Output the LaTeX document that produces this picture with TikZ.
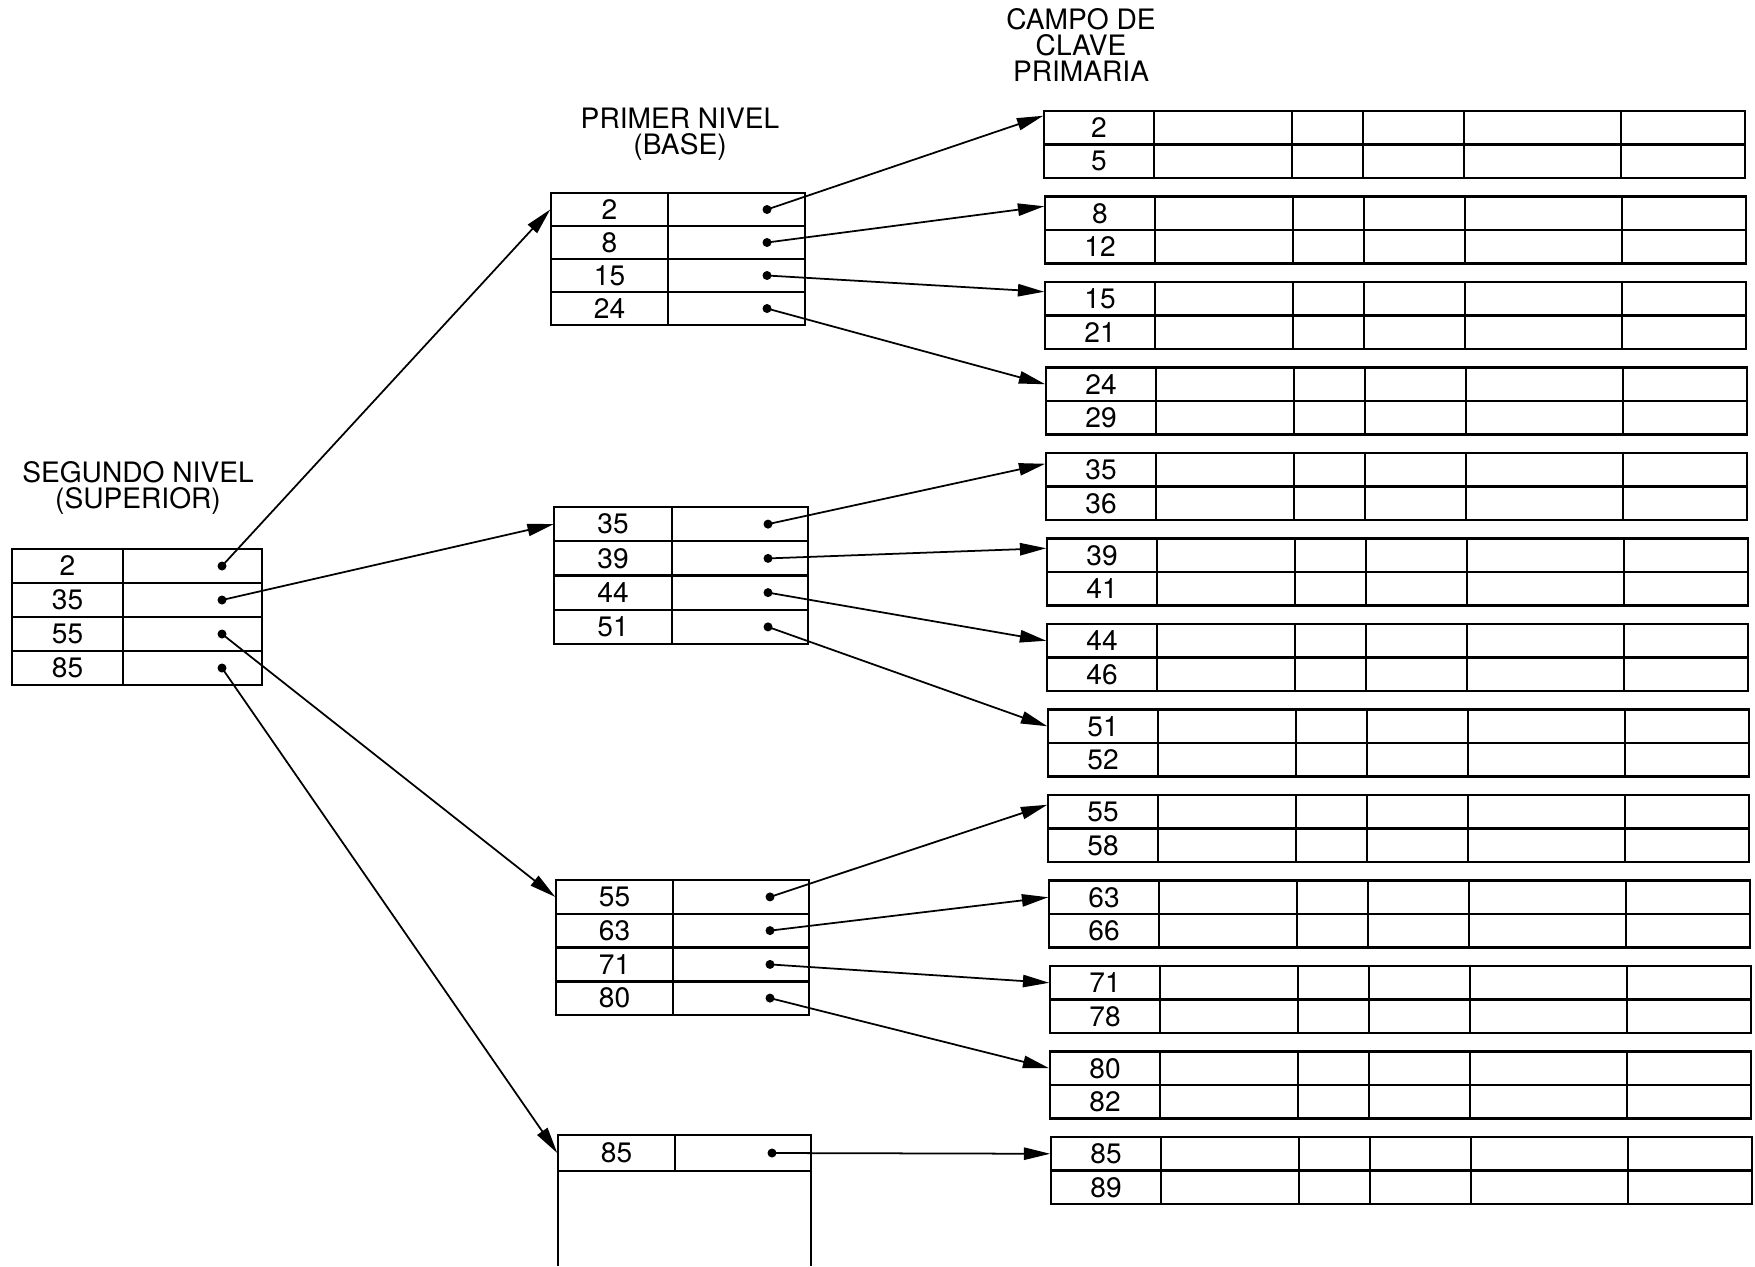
\documentclass[tikz,border=0pt]{standalone}
\usepackage{fontspec}
\setmainfont{TeX Gyre Heros}
\usetikzlibrary{arrows.meta}

\begin{document}
\begin{tikzpicture}[x=0.01cm, y=-0.01cm, font=\fontsize{8}{7.5}\selectfont,
  tab/.style={line width=0.7pt},
  keycell/.style={inner sep=0pt, minimum width=1.17cm, minimum height=0.33cm},
  topkey/.style={keycell, minimum width=1.11cm},
  datakey/.style={keycell, minimum width=1.10cm},
  ptrdot/.style={circle, fill, inner sep=0pt, minimum size=0.09cm},
  ptr/.style={line width=0.5pt, -{Triangle[length=7.5pt, width=3.5pt]}},
  lbl/.style={align=center}]
\useasboundingbox (0,0) rectangle (1755,1266);

% titles
\node[lbl] (lsup) at (138,488) {SEGUNDO NIVEL\\(SUPERIOR)};
\node[lbl] (lbase) at (680,134) {PRIMER NIVEL\\(BASE)};
\node[lbl] (lcampo) at (1081,45) {CAMPO DE\\CLAVE\\PRIMARIA};

% segundo nivel
\draw[tab] (12,549) rectangle (262,685) (123,549) -- (123,685);
\draw[tab] (12,583) -- (262,583) (12,617) -- (262,617) (12,651) -- (262,651);
\node[topkey] (sk2) at (67.5,566) {2};
\node[topkey] (sk35) at (67.5,600) {35};
\node[topkey] (sk55) at (67.5,634) {55};
\node[topkey] (sk85) at (67.5,668) {85};
\node[ptrdot] (sp2) at (222,566) {};
\node[ptrdot] (sp35) at (222,600) {};
\node[ptrdot] (sp55) at (222,634) {};
\node[ptrdot] (sp85) at (222,668) {};

% primer nivel
\draw[tab] (551,193) rectangle (805,325) (668,193) -- (668,325);
\draw[tab] (551,226) -- (805,226) (551,259) -- (805,259) (551,292) -- (805,292);
\node[keycell] (fk2) at (609.5,209.5) {2};
\node[keycell] (fk8) at (609.5,242.5) {8};
\node[keycell] (fk15) at (609.5,275.5) {15};
\node[keycell] (fk24) at (609.5,308.5) {24};
\node[ptrdot] (fp2) at (767,209.5) {};
\node[ptrdot] (fp8) at (767,242.5) {};
\node[ptrdot] (fp15) at (767,275.5) {};
\node[ptrdot] (fp24) at (767,308.5) {};

\draw[tab] (554,507) rectangle (808,644) (672,507) -- (672,644);
\draw[tab] (554,541.25) -- (808,541.25) (554,575.5) -- (808,575.5) (554,609.75) -- (808,609.75);
\node[keycell] (fk35) at (613,524.1) {35};
\node[keycell] (fk39) at (613,558.4) {39};
\node[keycell] (fk44) at (613,592.6) {44};
\node[keycell] (fk51) at (613,626.9) {51};
\node[ptrdot] (fp35) at (768,524.1) {};
\node[ptrdot] (fp39) at (768,558.4) {};
\node[ptrdot] (fp44) at (768,592.6) {};
\node[ptrdot] (fp51) at (768,626.9) {};

\draw[tab] (556,880) rectangle (809,1015) (673,880) -- (673,1015);
\draw[tab] (556,913.75) -- (809,913.75) (556,947.5) -- (809,947.5) (556,981.25) -- (809,981.25);
\node[keycell] (fk55) at (614.5,896.9) {55};
\node[keycell] (fk63) at (614.5,930.6) {63};
\node[keycell] (fk71) at (614.5,964.4) {71};
\node[keycell] (fk80) at (614.5,998.1) {80};
\node[ptrdot] (fp55) at (770,896.9) {};
\node[ptrdot] (fp63) at (770,930.6) {};
\node[ptrdot] (fp71) at (770,964.4) {};
\node[ptrdot] (fp80) at (770,998.1) {};

\draw[tab] (558,1266) -- (558,1135) -- (811,1135) -- (811,1266);
\draw[tab] (558,1171) -- (811,1171) (675,1135) -- (675,1171);
\node[keycell] (fk85) at (616.5,1153) {85};
\node[ptrdot] (fp85) at (772,1153) {};

% registros de datos
\draw[tab] (1044,111) rectangle (1745,178) (1044,144.5) -- (1745,144.5) (1154,111) -- (1154,178) (1292,111) -- (1292,178) (1363,111) -- (1363,178) (1464,111) -- (1464,178) (1621,111) -- (1621,178);
\node[datakey] (dk2) at (1099,127.75) {2};
\node[datakey] (dk5) at (1099,161.25) {5};
\draw[tab] (1045,196.5) rectangle (1746,263.5) (1045,230) -- (1746,230) (1155,196.5) -- (1155,263.5) (1293,196.5) -- (1293,263.5) (1364,196.5) -- (1364,263.5) (1465,196.5) -- (1465,263.5) (1622,196.5) -- (1622,263.5);
\node[datakey] (dk8) at (1100,213.25) {8};
\node[datakey] (dk12) at (1100,246.75) {12};
\draw[tab] (1045,282) rectangle (1746,349) (1045,315.5) -- (1746,315.5) (1155,282) -- (1155,349) (1293,282) -- (1293,349) (1364,282) -- (1364,349) (1465,282) -- (1465,349) (1622,282) -- (1622,349);
\node[datakey] (dk15) at (1100,298.75) {15};
\node[datakey] (dk21) at (1100,332.25) {21};
\draw[tab] (1046,367.5) rectangle (1747,434.5) (1046,401) -- (1747,401) (1156,367.5) -- (1156,434.5) (1294,367.5) -- (1294,434.5) (1365,367.5) -- (1365,434.5) (1466,367.5) -- (1466,434.5) (1623,367.5) -- (1623,434.5);
\node[datakey] (dk24) at (1101,384.25) {24};
\node[datakey] (dk29) at (1101,417.75) {29};
\draw[tab] (1046,453) rectangle (1747,520) (1046,486.5) -- (1747,486.5) (1156,453) -- (1156,520) (1294,453) -- (1294,520) (1365,453) -- (1365,520) (1466,453) -- (1466,520) (1623,453) -- (1623,520);
\node[datakey] (dk35) at (1101,469.75) {35};
\node[datakey] (dk36) at (1101,503.25) {36};
\draw[tab] (1047,538.5) rectangle (1748,605.5) (1047,572) -- (1748,572) (1157,538.5) -- (1157,605.5) (1295,538.5) -- (1295,605.5) (1366,538.5) -- (1366,605.5) (1467,538.5) -- (1467,605.5) (1624,538.5) -- (1624,605.5);
\node[datakey] (dk39) at (1102,555.25) {39};
\node[datakey] (dk41) at (1102,588.75) {41};
\draw[tab] (1047,624) rectangle (1748,691) (1047,657.5) -- (1748,657.5) (1157,624) -- (1157,691) (1295,624) -- (1295,691) (1366,624) -- (1366,691) (1467,624) -- (1467,691) (1624,624) -- (1624,691);
\node[datakey] (dk44) at (1102,640.75) {44};
\node[datakey] (dk46) at (1102,674.25) {46};
\draw[tab] (1048,709.5) rectangle (1749,776.5) (1048,743) -- (1749,743) (1158,709.5) -- (1158,776.5) (1296,709.5) -- (1296,776.5) (1367,709.5) -- (1367,776.5) (1468,709.5) -- (1468,776.5) (1625,709.5) -- (1625,776.5);
\node[datakey] (dk51) at (1103,726.25) {51};
\node[datakey] (dk52) at (1103,759.75) {52};
\draw[tab] (1048,795) rectangle (1749,862) (1048,828.5) -- (1749,828.5) (1158,795) -- (1158,862) (1296,795) -- (1296,862) (1367,795) -- (1367,862) (1468,795) -- (1468,862) (1625,795) -- (1625,862);
\node[datakey] (dk55) at (1103,811.75) {55};
\node[datakey] (dk58) at (1103,845.25) {58};
\draw[tab] (1049,880.5) rectangle (1750,947.5) (1049,914) -- (1750,914) (1159,880.5) -- (1159,947.5) (1297,880.5) -- (1297,947.5) (1368,880.5) -- (1368,947.5) (1469,880.5) -- (1469,947.5) (1626,880.5) -- (1626,947.5);
\node[datakey] (dk63) at (1104,897.25) {63};
\node[datakey] (dk66) at (1104,930.75) {66};
\draw[tab] (1050,966) rectangle (1751,1033) (1050,999.5) -- (1751,999.5) (1160,966) -- (1160,1033) (1298,966) -- (1298,1033) (1369,966) -- (1369,1033) (1470,966) -- (1470,1033) (1627,966) -- (1627,1033);
\node[datakey] (dk71) at (1105,982.75) {71};
\node[datakey] (dk78) at (1105,1016.25) {78};
\draw[tab] (1050,1051.5) rectangle (1751,1118.5) (1050,1085) -- (1751,1085) (1160,1051.5) -- (1160,1118.5) (1298,1051.5) -- (1298,1118.5) (1369,1051.5) -- (1369,1118.5) (1470,1051.5) -- (1470,1118.5) (1627,1051.5) -- (1627,1118.5);
\node[datakey] (dk80) at (1105,1068.25) {80};
\node[datakey] (dk82) at (1105,1101.75) {82};
\draw[tab] (1051,1137) rectangle (1752,1204) (1051,1170.5) -- (1752,1170.5) (1161,1137) -- (1161,1204) (1299,1137) -- (1299,1204) (1370,1137) -- (1370,1204) (1471,1137) -- (1471,1204) (1628,1137) -- (1628,1204);
\node[datakey] (dk85) at (1106,1153.75) {85};
\node[datakey] (dk89) at (1106,1187.25) {89};

% punteros
\draw[ptr] (sp2.center) -- (fk2.west);
\draw[ptr] (sp35.center) -- (fk35.west);
\draw[ptr] (sp55.center) -- (fk55.west);
\draw[ptr] (sp85.center) -- (fk85.west);
\draw[ptr] (fp2.center) -- ([yshift=1.2mm]dk2.west);
\draw[ptr] (fp8.center) -- ([yshift=0.7mm]dk8.west);
\draw[ptr] (fp15.center) -- ([yshift=0.7mm]dk15.west);
\draw[ptr] (fp24.center) -- (dk24.west);
\draw[ptr] (fp35.center) -- ([yshift=0.6mm]dk35.west);
\draw[ptr] (fp39.center) -- ([yshift=0.7mm]dk39.west);
\draw[ptr] (fp44.center) -- (dk44.west);
\draw[ptr] (fp51.center) -- (dk51.west);
\draw[ptr] (fp55.center) -- ([yshift=0.7mm]dk55.west);
\draw[ptr] (fp63.center) -- (dk63.west);
\draw[ptr] (fp71.center) -- (dk71.west);
\draw[ptr] (fp80.center) -- (dk80.west);
\draw[ptr] (fp85.center) -- (dk85.west);
\end{tikzpicture}
\end{document}
